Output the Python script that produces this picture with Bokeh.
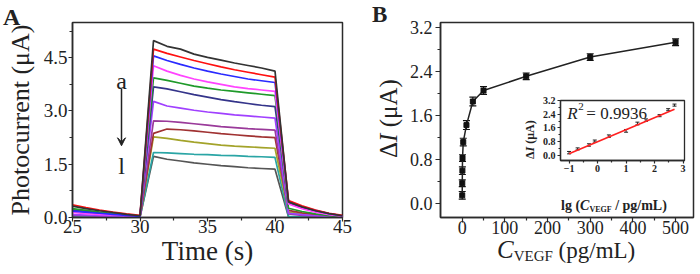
import numpy as np
from bokeh.plotting import figure
from bokeh.layouts import row
from bokeh.models import (Range1d, FixedTicker, Label, Arrow, VeeHead, Whisker,
                          TeeHead, ColumnDataSource, Div, CustomJSTickFormatter)
from bokeh.embed import file_html
from bokeh.resources import INLINE

FONT = "Liberation Serif"
INK = "#2b2b2b"

# ---------------- Panel A data ----------------
time_s = [25, 26, 27, 28, 29, 30, 31, 32, 33, 34, 35, 36, 37, 38, 39, 40, 41, 42, 43, 44, 45]
curve_names = ["a", "b", "c", "d", "e", "f", "g", "h", "i", "j", "k", "l"]
curve_colors = ["#333333", "#ff1010", "#2a2aff", "#ff44ff", "#1f9a2a", "#34348a",
                "#a040ff", "#9a3a9a", "#a03232", "#a3a32a", "#2aa5a5", "#555555"]
current_a = [0.32, 0.25, 0.19, 0.14, 0.09, 0.05, 4.98, 4.82, 4.74, 4.60, 4.51, 4.43, 4.35, 4.28, 4.21, 4.12, 0.44, 0.30, 0.19, 0.11, 0.05]
current_b = [0.36, 0.28, 0.21, 0.15, 0.10, 0.06, 4.74, 4.62, 4.52, 4.42, 4.33, 4.24, 4.16, 4.09, 4.02, 3.95, 0.48, 0.33, 0.21, 0.12, 0.06]
current_c = [0.18, 0.15, 0.12, 0.09, 0.06, 0.03, 4.55, 4.42, 4.31, 4.21, 4.12, 4.04, 3.97, 3.90, 3.85, 3.80, 0.46, 0.31, 0.20, 0.11, 0.05]
current_d = [0.14, 0.11, 0.09, 0.07, 0.05, 0.03, 4.27, 4.12, 4.00, 3.90, 3.82, 3.75, 3.68, 3.63, 3.59, 3.55, 0.38, 0.25, 0.15, 0.08, 0.03]
current_e = [0.25, 0.20, 0.15, 0.11, 0.07, 0.04, 3.93, 3.86, 3.78, 3.70, 3.64, 3.59, 3.55, 3.51, 3.47, 3.43, 0.26, 0.17, 0.10, 0.05, 0.02]
current_f = [0.20, 0.16, 0.12, 0.09, 0.06, 0.03, 3.68, 3.62, 3.54, 3.46, 3.39, 3.32, 3.26, 3.21, 3.16, 3.12, 0.40, 0.28, 0.18, 0.10, 0.04]
current_g = [0.08, 0.07, 0.05, 0.04, 0.03, 0.02, 3.27, 3.14, 3.08, 3.02, 2.97, 2.93, 2.89, 2.86, 2.83, 2.80, 0.12, 0.08, 0.05, 0.03, 0.01]
current_h = [0.06, 0.05, 0.04, 0.03, 0.02, 0.01, 2.72, 2.71, 2.68, 2.64, 2.60, 2.56, 2.53, 2.50, 2.48, 2.46, 0.10, 0.06, 0.04, 0.02, 0.01]
current_i = [0.20, 0.16, 0.12, 0.09, 0.06, 0.03, 2.37, 2.49, 2.47, 2.44, 2.40, 2.36, 2.33, 2.30, 2.27, 2.25, 0.20, 0.13, 0.08, 0.04, 0.02]
current_j = [0.22, 0.17, 0.13, 0.09, 0.06, 0.03, 2.27, 2.23, 2.17, 2.12, 2.08, 2.04, 2.01, 1.99, 1.97, 1.95, 0.15, 0.10, 0.06, 0.03, 0.01]
current_k = [0.05, 0.04, 0.03, 0.02, 0.02, 0.01, 1.83, 1.82, 1.80, 1.78, 1.77, 1.75, 1.74, 1.72, 1.71, 1.69, 0.03, 0.02, 0.01, 0.01, 0.00]
current_l = [0.04, 0.03, 0.02, 0.02, 0.01, 0.01, 1.72, 1.64, 1.59, 1.54, 1.50, 1.46, 1.43, 1.40, 1.38, 1.36, 0.02, 0.01, 0.01, 0.00, 0.00]
curves = [current_a, current_b, current_c, current_d, current_e, current_f,
          current_g, current_h, current_i, current_j, current_k, current_l]

a_ticks = [0, 1.5, 3.0, 4.5]
a_minor = [0.75, 2.25, 3.75, 5.25]
t_ticks = [25, 30, 35, 40, 45]
t_minor = [27.5, 32.5, 37.5, 42.5]

# ---------------- Panel B data ----------------
conc = [0.1, 0.2, 0.5, 0.8, 2.5, 10, 25, 50, 150, 300, 500]
delta_i = [0.15, 0.37, 0.60, 0.83, 1.12, 1.43, 1.86, 2.06, 2.32, 2.67, 2.94]
delta_i_err = [0.07, 0.06, 0.07, 0.06, 0.07, 0.08, 0.08, 0.07, 0.06, 0.06, 0.06]
fit_lg = [-1.0, 2.7]
fit_di = [0.09, 2.70]
r2_text = "0.9936"

b_yticks = [0, 0.8, 1.6, 2.4, 3.2]
b_yminor = [0.4, 1.2, 2.0, 2.8]
b_xticks = [0, 100, 200, 300, 400, 500]
b_xminor = [50, 150, 250, 350, 450]
i_xticks = [-1, 0, 1, 2, 3]
i_xminor = [-0.5, 0.5, 1.5, 2.5]


def style(p, tsize, bold=False, tout=5, mout=3, lw=1.5):
    p.outline_line_color = INK
    p.outline_line_width = lw
    p.xgrid.visible = False
    p.ygrid.visible = False
    for ax in (p.xaxis[0], p.yaxis[0]):
        ax.axis_line_color = INK
        ax.axis_line_width = lw
        ax.major_tick_line_color = INK
        ax.minor_tick_line_color = INK
        ax.major_tick_line_width = 1.2
        ax.minor_tick_line_width = 1.2
        ax.major_tick_in = 0
        ax.minor_tick_in = 0
        ax.major_tick_out = tout
        ax.minor_tick_out = mout
        ax.major_label_text_font = FONT
        ax.major_label_text_font_size = tsize
        ax.major_label_text_color = "#222222"
        ax.major_label_text_font_style = "bold" if bold else "normal"
        ax.axis_label_text_font = FONT
        ax.axis_label_text_color = "#222222"
        ax.axis_label_text_font_style = "bold" if bold else "normal"


def lab(p, x, y, text, size, style_="normal", align="left", baseline="alphabetic",
        xo=0, yo=0):
    p.add_layout(Label(x=x, y=y, text=text, text_font=FONT, text_font_size=size,
                       text_font_style=style_, text_color="#222222", text_align=align,
                       text_baseline=baseline, x_offset=xo, y_offset=yo))


def overlay_text(html, left, top, size, weight="normal", rotate=False):
    st = {"position": "absolute", "left": "%dpx" % left, "top": "%dpx" % top,
          "margin": "0", "padding": "0"}
    if rotate:
        st["transform"] = "rotate(-90deg)"
        st["transform-origin"] = "0 0"
    return Div(text=('<div style="font-family:\'Liberation Serif\';font-size:%dpx;'
                     'line-height:1;white-space:nowrap;color:#222222;font-weight:%s">%s</div>'
                     % (size, weight, html)), styles=st)


# ---------------- Panel A ----------------
pA = figure(width=354, height=272, output_backend="svg", toolbar_location=None,
            x_range=Range1d(25, 45), y_range=Range1d(0, 5.49),
            min_border_left=72, min_border_right=12, min_border_top=22, min_border_bottom=55)
style(pA, "19px", tout=4)
pA.xaxis.ticker = FixedTicker(ticks=t_ticks, minor_ticks=t_minor)
pA.yaxis.ticker = FixedTicker(ticks=a_ticks, minor_ticks=a_minor)
pA.yaxis.formatter = CustomJSTickFormatter(code="return tick.toFixed(1);")
pA.xaxis.axis_label = "Time (s)"
pA.yaxis.axis_label = "Photocurrent (μA)"
pA.xaxis.axis_label_text_font_size = "27px"
pA.yaxis.axis_label_text_font_size = "26px"
pA.xaxis.major_label_standoff = -2
pA.xaxis.axis_label_standoff = 0
pA.yaxis.major_label_standoff = 1
pA.yaxis.axis_label_standoff = 6

for vals, col in reversed(list(zip(curves, curve_colors))):
    pA.line(time_s, vals, line_color=col, line_width=1.7)

pA.add_layout(Arrow(x_start=28.63, y_start=3.62, x_end=28.63, y_end=2.02,
                    line_color="#222222", line_width=1.5,
                    end=VeeHead(size=8, fill_color="#222222", line_color="#222222")))
lab(pA, 28.63, 3.85, curve_names[0], "24px", align="center", baseline="middle")
lab(pA, 28.63, 1.46, curve_names[-1], "24px", align="center", baseline="middle")

# ---------------- Panel B ----------------
pB = figure(width=346, height=272, output_backend="svg", toolbar_location=None,
            x_range=Range1d(-50.8, 542), y_range=Range1d(-0.254, 3.30),
            min_border_left=86, min_border_right=7, min_border_top=22, min_border_bottom=54)
style(pB, "18px")
pB.xaxis.ticker = FixedTicker(ticks=b_xticks, minor_ticks=b_xminor)
pB.yaxis.ticker = FixedTicker(ticks=b_yticks, minor_ticks=b_yminor)
pB.yaxis.formatter = CustomJSTickFormatter(code="return tick.toFixed(1);")
pB.xaxis.major_label_standoff = -2
pB.yaxis.major_label_standoff = 3

srcB = ColumnDataSource(dict(x=conc, y=delta_i,
                             up=[v + e for v, e in zip(delta_i, delta_i_err)],
                             lo=[v - e for v, e in zip(delta_i, delta_i_err)]))
pB.line("x", "y", source=srcB, line_color="#222222", line_width=1.5)
pB.add_layout(Whisker(source=srcB, base="x", upper="up", lower="lo", dimension="height",
                      line_color="#111111", line_width=1.2,
                      upper_head=TeeHead(size=7, line_color="#111111", line_width=1.2),
                      lower_head=TeeHead(size=7, line_color="#111111", line_width=1.2)))
pB.scatter("x", "y", source=srcB, marker="square", size=5, color="#111111")

# ---------------- Inset ----------------
pI = figure(width=174, height=137, output_backend="svg", toolbar_location=None,
            x_range=Range1d(-1.3, 3.05), y_range=Range1d(-0.31, 3.21),
            min_border_left=46, min_border_right=4, min_border_top=6, min_border_bottom=32)
style(pI, "10px", bold=True, tout=3, mout=2, lw=1.3)
pI.border_fill_color = None
pI.background_fill_color = "white"
pI.xaxis.ticker = FixedTicker(ticks=i_xticks, minor_ticks=i_xminor)
pI.yaxis.ticker = FixedTicker(ticks=b_yticks, minor_ticks=b_yminor)
pI.yaxis.formatter = CustomJSTickFormatter(code="return tick.toFixed(1);")
pI.xaxis.major_label_standoff = 1
pI.yaxis.major_label_standoff = 2
pI.styles = {"position": "absolute", "left": "514px", "top": "78px"}

lg_conc = list(np.log10(conc))
srcI = ColumnDataSource(dict(x=lg_conc, y=delta_i,
                             up=[v + e for v, e in zip(delta_i, delta_i_err)],
                             lo=[v - e for v, e in zip(delta_i, delta_i_err)]))
pI.line(fit_lg, fit_di, line_color="#ff2020", line_width=1.6)
pI.add_layout(Whisker(source=srcI, base="x", upper="up", lower="lo", dimension="height",
                      line_color="#222222", line_width=1.0,
                      upper_head=TeeHead(size=4, line_color="#222222", line_width=1.0),
                      lower_head=TeeHead(size=4, line_color="#222222", line_width=1.0)))

lab(pI, -1.06, 2.43, "R", "17px", style_="italic")
lab(pI, -1.06, 2.43, "2", "11px", xo=11, yo=7)
lab(pI, -1.06, 2.43, "= " + r2_text, "17px", xo=19)

# ---------------- texts outside the frames ----------------
divA = overlay_text("A", 3, 5, 24, "bold")
divB = overlay_text("B", 372, 3, 23, "bold")
divBy = overlay_text('Δ<i>I</i> (μA)', 376, 158, 25, rotate=True)
divCx = overlay_text('<i>C</i><span style="font-size:15px;position:relative;top:3px">VEGF</span>'
                     '<span style="font-size:23px"> (pg/mL)</span>', 497, 237, 25)
divIy = overlay_text('Δ<i>I</i> (μA)', 522, 159, 12, "bold", rotate=True)
divIx = overlay_text('lg (<i>C</i><span style="font-size:8px;position:relative;top:2px">VEGF</span>'
                     ' / pg/mL)', 561, 198, 14, "bold")

root = row(pA, pB, pI, divA, divB, divBy, divCx, divIy, divIx)
root.styles = {"position": "relative"}

open("out.html", "w").write(file_html(root, INLINE))
